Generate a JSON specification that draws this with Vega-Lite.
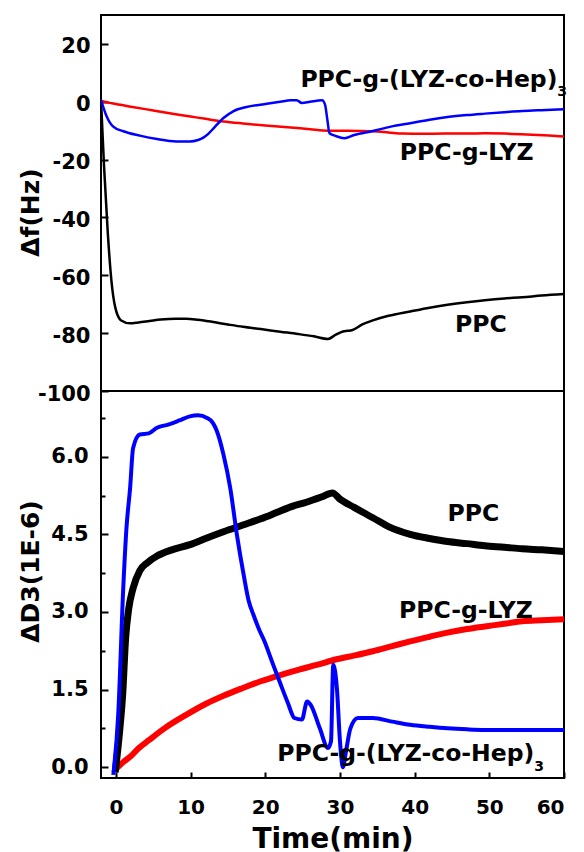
{
  "$schema": "https://vega.github.io/schema/vega-lite/v6.json",
  "background": "white",
  "padding": {"left": 17, "top": 14, "right": 10, "bottom": 0},
  "bounds": "flush",
  "spacing": 0,
  "config": {
    "view": {"stroke": "black", "strokeWidth": 2},
    "font": "DejaVu Sans",
    "axis": {
      "domain": false, "grid": false,
      "labelFont": "DejaVu Sans", "labelFontWeight": "bold", "labelFontSize": 21, "labelColor": "black",
      "titleFont": "DejaVu Sans", "titleFontWeight": "bold", "titleColor": "black",
      "tickColor": "black", "tickWidth": 2
    },
    "text": {"font": "DejaVu Sans", "fontWeight": "bold", "fontSize": 23.5, "color": "black", "align": "left", "baseline": "alphabetic"}
  },
  "datasets": {
    "freq": [
      {"s":"PPC","t":-2.0,"v":0.7},{"s":"PPC","t":-1.6,"v":-22},{"s":"PPC","t":-1.1,"v":-45},{"s":"PPC","t":-0.6,"v":-62},{"s":"PPC","t":-0.1,"v":-71},{"s":"PPC","t":0.7,"v":-75.6},{"s":"PPC","t":1.9,"v":-76.6},{"s":"PPC","t":3.0,"v":-76.3},{"s":"PPC","t":4.5,"v":-75.8},{"s":"PPC","t":6,"v":-75.3},{"s":"PPC","t":8,"v":-75.0},{"s":"PPC","t":9.4,"v":-75.0},{"s":"PPC","t":11,"v":-75.4},{"s":"PPC","t":12.4,"v":-75.9},{"s":"PPC","t":15,"v":-77.0},{"s":"PPC","t":17,"v":-77.8},{"s":"PPC","t":19.4,"v":-78.6},{"s":"PPC","t":22,"v":-79.5},{"s":"PPC","t":24.4,"v":-80.3},{"s":"PPC","t":26.5,"v":-81.1},{"s":"PPC","t":28.4,"v":-82},{"s":"PPC","t":29.4,"v":-80.6},{"s":"PPC","t":30.4,"v":-79.4},{"s":"PPC","t":31.0,"v":-79.2},{"s":"PPC","t":31.6,"v":-79.0},{"s":"PPC","t":33,"v":-77.0},{"s":"PPC","t":34.4,"v":-75.6},{"s":"PPC","t":36.5,"v":-74.0},{"s":"PPC","t":39.4,"v":-72.5},{"s":"PPC","t":42,"v":-71.2},{"s":"PPC","t":44.4,"v":-70.2},{"s":"PPC","t":47,"v":-69.3},{"s":"PPC","t":49.4,"v":-68.6},{"s":"PPC","t":52,"v":-68.0},{"s":"PPC","t":54.4,"v":-67.6},{"s":"PPC","t":57,"v":-67.0},{"s":"PPC","t":60,"v":-66.5},
      {"s":"LYZ","t":-2.0,"v":0.3},{"s":"LYZ","t":0,"v":-0.8},{"s":"LYZ","t":2,"v":-1.7},{"s":"LYZ","t":5,"v":-3.0},{"s":"LYZ","t":8,"v":-4.3},{"s":"LYZ","t":10,"v":-5.1},{"s":"LYZ","t":12,"v":-5.9},{"s":"LYZ","t":14.4,"v":-6.8},{"s":"LYZ","t":17,"v":-7.5},{"s":"LYZ","t":20,"v":-8.2},{"s":"LYZ","t":23.4,"v":-8.9},{"s":"LYZ","t":26,"v":-9.5},{"s":"LYZ","t":28.4,"v":-10.0},{"s":"LYZ","t":31,"v":-10.0},{"s":"LYZ","t":34.4,"v":-10.2},{"s":"LYZ","t":36.5,"v":-10.6},{"s":"LYZ","t":38.4,"v":-11.0},{"s":"LYZ","t":41,"v":-11.1},{"s":"LYZ","t":44,"v":-11.0},{"s":"LYZ","t":47,"v":-11.0},{"s":"LYZ","t":49.4,"v":-10.9},{"s":"LYZ","t":52,"v":-11.0},{"s":"LYZ","t":55,"v":-11.3},{"s":"LYZ","t":58,"v":-11.7},{"s":"LYZ","t":60,"v":-12.0},
      {"s":"HEP","t":-2.0,"v":0.7},{"s":"HEP","t":-1.25,"v":-5},{"s":"HEP","t":-0.4,"v":-8.5},{"s":"HEP","t":1.0,"v":-10.2},{"s":"HEP","t":3.2,"v":-11.7},{"s":"HEP","t":5.5,"v":-12.9},{"s":"HEP","t":8.1,"v":-13.7},{"s":"HEP","t":9.9,"v":-13.7},{"s":"HEP","t":11,"v":-13.2},{"s":"HEP","t":11.7,"v":-12.4},{"s":"HEP","t":12.4,"v":-11.0},{"s":"HEP","t":13.1,"v":-9.1},{"s":"HEP","t":14.4,"v":-5.6},{"s":"HEP","t":15.7,"v":-3.3},{"s":"HEP","t":17.5,"v":-1.8},{"s":"HEP","t":20.2,"v":-0.7},{"s":"HEP","t":22,"v":0.0},{"s":"HEP","t":23.4,"v":0.5},{"s":"HEP","t":24.2,"v":0.5},{"s":"HEP","t":24.9,"v":-0.4},{"s":"HEP","t":26,"v":0.0},{"s":"HEP","t":27.6,"v":0.5},{"s":"HEP","t":28.0,"v":-1.0},{"s":"HEP","t":28.3,"v":-6},{"s":"HEP","t":28.6,"v":-10.9},{"s":"HEP","t":29.4,"v":-11.8},{"s":"HEP","t":30.6,"v":-12.6},{"s":"HEP","t":31.9,"v":-11.5},{"s":"HEP","t":34.4,"v":-10.1},{"s":"HEP","t":36.8,"v":-8.6},{"s":"HEP","t":39.4,"v":-7.4},{"s":"HEP","t":42,"v":-6.2},{"s":"HEP","t":44.4,"v":-5.3},{"s":"HEP","t":47,"v":-4.6},{"s":"HEP","t":49.4,"v":-4.1},{"s":"HEP","t":52,"v":-3.6},{"s":"HEP","t":54.4,"v":-3.2},{"s":"HEP","t":57,"v":-2.9},{"s":"HEP","t":60,"v":-2.6}
    ],
    "diss": [
      {"s":"PPC","t":-0.1,"v":-0.1},{"s":"PPC","t":0.5,"v":0.7},{"s":"PPC","t":0.9,"v":1.4},{"s":"PPC","t":1.3,"v":2.5},{"s":"PPC","t":1.7,"v":3.05},{"s":"PPC","t":2.3,"v":3.46},{"s":"PPC","t":3.2,"v":3.8},{"s":"PPC","t":4.2,"v":3.95},{"s":"PPC","t":5.5,"v":4.08},{"s":"PPC","t":7.5,"v":4.2},{"s":"PPC","t":9.9,"v":4.3},{"s":"PPC","t":12,"v":4.42},{"s":"PPC","t":14.4,"v":4.55},{"s":"PPC","t":17,"v":4.68},{"s":"PPC","t":19.4,"v":4.8},{"s":"PPC","t":21.5,"v":4.92},{"s":"PPC","t":23.4,"v":5.03},{"s":"PPC","t":25.5,"v":5.12},{"s":"PPC","t":27.5,"v":5.22},{"s":"PPC","t":29.0,"v":5.3},{"s":"PPC","t":30,"v":5.18},{"s":"PPC","t":31.9,"v":5.02},{"s":"PPC","t":33,"v":4.93},{"s":"PPC","t":34.4,"v":4.82},{"s":"PPC","t":36.5,"v":4.65},{"s":"PPC","t":39.4,"v":4.5},{"s":"PPC","t":42,"v":4.42},{"s":"PPC","t":44.4,"v":4.36},{"s":"PPC","t":47,"v":4.32},{"s":"PPC","t":49.4,"v":4.28},{"s":"PPC","t":52,"v":4.25},{"s":"PPC","t":54.4,"v":4.22},{"s":"PPC","t":57,"v":4.2},{"s":"PPC","t":60,"v":4.17},
      {"s":"LYZ","t":-0.1,"v":-0.05},{"s":"LYZ","t":1.0,"v":0.1},{"s":"LYZ","t":1.9,"v":0.2},{"s":"LYZ","t":3,"v":0.36},{"s":"LYZ","t":4.4,"v":0.52},{"s":"LYZ","t":6.5,"v":0.75},{"s":"LYZ","t":9.4,"v":1.01},{"s":"LYZ","t":12,"v":1.22},{"s":"LYZ","t":14.4,"v":1.38},{"s":"LYZ","t":17,"v":1.53},{"s":"LYZ","t":19.4,"v":1.66},{"s":"LYZ","t":22,"v":1.78},{"s":"LYZ","t":24.4,"v":1.88},{"s":"LYZ","t":27,"v":1.98},{"s":"LYZ","t":29.4,"v":2.08},{"s":"LYZ","t":32,"v":2.16},{"s":"LYZ","t":34.4,"v":2.24},{"s":"LYZ","t":37,"v":2.34},{"s":"LYZ","t":39.4,"v":2.43},{"s":"LYZ","t":42,"v":2.52},{"s":"LYZ","t":44.4,"v":2.6},{"s":"LYZ","t":47,"v":2.67},{"s":"LYZ","t":49.4,"v":2.72},{"s":"LYZ","t":52,"v":2.77},{"s":"LYZ","t":54.4,"v":2.82},{"s":"LYZ","t":57,"v":2.84},{"s":"LYZ","t":60,"v":2.86},
      {"s":"HEP","t":-0.35,"v":-0.15},{"s":"HEP","t":0.3,"v":1.0},{"s":"HEP","t":0.98,"v":3.46},{"s":"HEP","t":1.4,"v":4.6},{"s":"HEP","t":1.9,"v":5.4},{"s":"HEP","t":2.3,"v":6.17},{"s":"HEP","t":3.2,"v":6.43},{"s":"HEP","t":4.4,"v":6.45},{"s":"HEP","t":5.5,"v":6.56},{"s":"HEP","t":7,"v":6.62},{"s":"HEP","t":8.5,"v":6.7},{"s":"HEP","t":9.9,"v":6.78},{"s":"HEP","t":11,"v":6.8},{"s":"HEP","t":12.2,"v":6.75},{"s":"HEP","t":13.0,"v":6.65},{"s":"HEP","t":13.5,"v":6.5},{"s":"HEP","t":14.4,"v":6.04},{"s":"HEP","t":15.3,"v":5.4},{"s":"HEP","t":16.2,"v":4.49},{"s":"HEP","t":17.1,"v":3.72},{"s":"HEP","t":17.8,"v":3.2},{"s":"HEP","t":18.4,"v":2.95},{"s":"HEP","t":19.2,"v":2.65},{"s":"HEP","t":19.9,"v":2.43},{"s":"HEP","t":21,"v":2.0},{"s":"HEP","t":21.9,"v":1.66},{"s":"HEP","t":23,"v":1.25},{"s":"HEP","t":23.9,"v":0.95},{"s":"HEP","t":24.9,"v":0.92},{"s":"HEP","t":25.6,"v":1.27},{"s":"HEP","t":26.1,"v":1.2},{"s":"HEP","t":27.3,"v":0.75},{"s":"HEP","t":28.4,"v":0.37},{"s":"HEP","t":28.8,"v":0.5},{"s":"HEP","t":29.1,"v":1.98},{"s":"HEP","t":29.6,"v":1.5},{"s":"HEP","t":30.0,"v":0.5},{"s":"HEP","t":30.4,"v":0.0},{"s":"HEP","t":30.8,"v":0.3},{"s":"HEP","t":31.4,"v":0.75},{"s":"HEP","t":32.4,"v":0.95},{"s":"HEP","t":34.4,"v":0.95},{"s":"HEP","t":37,"v":0.88},{"s":"HEP","t":39.4,"v":0.82},{"s":"HEP","t":42,"v":0.78},{"s":"HEP","t":44.4,"v":0.75},{"s":"HEP","t":47,"v":0.73},{"s":"HEP","t":49.4,"v":0.72},{"s":"HEP","t":54.4,"v":0.72},{"s":"HEP","t":60,"v":0.72}
    ],
    "toplabels": [
      {"label":"PPC-g-(LYZ-co-Hep)","t":24.7,"v":5.2},{"label":"PPC-g-LYZ","t":38.0,"v":-20},{"label":"PPC","t":45.4,"v":-79.7}
    ],
    "topsub": [{"label":"3","t":59.1,"v":2.1}],
    "botlabels": [
      {"label":"PPC","t":44.4,"v":4.75},{"label":"PPC-g-LYZ","t":37.9,"v":2.88},{"label":"PPC-g-(LYZ-co-Hep)","t":21.6,"v":0.12}
    ],
    "botsub": [{"label":"3","t":56,"v":-0.08}]
  },
  "vconcat": [
    {
      "width": 463, "height": 376,
      "layer": [
        {
          "data": {"name": "freq"},
          "mark": {"type": "line", "clip": true, "strokeWidth": 2.5, "interpolate": "monotone"},
          "encoding": {
            "x": {"field": "t", "type": "quantitative", "scale": {"domain": [-2, 60], "nice": false, "zero": false}, "axis": null},
            "y": {"field": "v", "type": "quantitative", "scale": {"domain": [-100, 30], "nice": false, "zero": false},
              "axis": {"title": "Δf(Hz)", "titleFontSize": 25, "titleX": -71, "titleY": 197, "titleAlign": "center", "titleBaseline": "middle", "titleAngle": -90,
                "values": [-100,-90,-80,-70,-60,-50,-40,-30,-20,-10,0,10,20],
                "labelExpr": "datum.value % 20 == 0 ? (datum.value < 0 ? '-' : '') + abs(datum.value) : ''",
                "tickSize": {"condition": {"test": "datum.value % 20 == 0", "value": -7}, "value": -4},
                "labelPadding": 18, "labelOffset": 3}},
            "color": {"field": "s", "type": "nominal", "legend": null, "scale": {"domain": ["PPC","LYZ","HEP"], "range": ["#000000","#ff0000","#0000ff"]}}
          }
        },
        {
          "data": {"name": "toplabels"},
          "mark": {"type": "text"},
          "encoding": {"x": {"field": "t", "type": "quantitative"}, "y": {"field": "v", "type": "quantitative"}, "text": {"field": "label"}}
        },
        {
          "data": {"name": "topsub"},
          "mark": {"type": "text", "fontSize": 14},
          "encoding": {"x": {"field": "t", "type": "quantitative"}, "y": {"field": "v", "type": "quantitative"}, "text": {"field": "label"}}
        }
      ]
    },
    {
      "width": 463, "height": 387,
      "layer": [
        {
          "data": {"name": "diss"},
          "transform": [{"filter": "datum.s == 'LYZ'"}],
          "mark": {"type": "line", "clip": true, "strokeWidth": 6, "interpolate": "monotone", "color": "#ff0000"},
          "encoding": {
            "x": {"field": "t", "type": "quantitative", "scale": {"domain": [-2, 60], "nice": false, "zero": false},
              "axis": {"title": "Time(min)", "titleFontSize": 28, "values": [0,10,20,30,40,50,60], "tickSize": -6, "labelPadding": 25, "labelFontSize": 20, "titlePadding": 8}},
            "y": {"field": "v", "type": "quantitative", "scale": {"domain": [-0.21, 7.27], "nice": false, "zero": false},
              "axis": {"title": "ΔD3(1E-6)", "titleFontSize": 25, "titleX": -71, "titleY": 180, "titleAlign": "center", "titleBaseline": "middle", "titleAngle": -90,
                "values": [0,0.75,1.5,2.25,3,3.75,4.5,5.25,6,6.75],
                "labelExpr": "abs(datum.value/1.5 - round(datum.value/1.5)) < 0.001 ? format(datum.value, '.1f') : ''",
                "tickSize": {"condition": {"test": "abs(datum.value/1.5 - round(datum.value/1.5)) < 0.001", "value": -7}, "value": -4},
                "labelPadding": 20}}
          }
        },
        {
          "data": {"name": "diss"},
          "transform": [{"filter": "datum.s == 'PPC'"}],
          "mark": {"type": "line", "clip": true, "strokeWidth": 7, "interpolate": "monotone", "color": "#000000"},
          "encoding": {"x": {"field": "t", "type": "quantitative"}, "y": {"field": "v", "type": "quantitative"}}
        },
        {
          "data": {"name": "diss"},
          "transform": [{"filter": "datum.s == 'HEP'"}],
          "mark": {"type": "line", "clip": true, "strokeWidth": 4, "interpolate": "monotone", "color": "#0000ff"},
          "encoding": {"x": {"field": "t", "type": "quantitative"}, "y": {"field": "v", "type": "quantitative"}}
        },
        {
          "data": {"name": "botlabels"},
          "mark": {"type": "text"},
          "encoding": {"x": {"field": "t", "type": "quantitative"}, "y": {"field": "v", "type": "quantitative"}, "text": {"field": "label"}}
        },
        {
          "data": {"name": "botsub"},
          "mark": {"type": "text", "fontSize": 14},
          "encoding": {"x": {"field": "t", "type": "quantitative"}, "y": {"field": "v", "type": "quantitative"}, "text": {"field": "label"}}
        }
      ]
    }
  ]
}
